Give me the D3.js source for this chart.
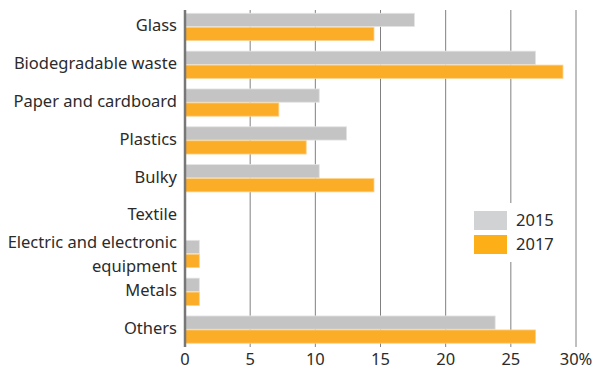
<!DOCTYPE html>
<html>
<head>
<meta charset="utf-8">
<script src="https://cdn.jsdelivr.net/npm/d3@7"></script>
<style>
  body { margin: 0; background: #fff; }
  text { font-family: "Noto Sans", sans-serif; fill: #2b2b2b; }
</style>
</head>
<body>
<div id="chart"></div>
<script>
var categories = ["Glass", "Biodegradable waste", "Paper and cardboard", "Plastics", "Bulky",
                  "Textile", "Electric and electronic|equipment", "Metals", "Others"];
var years = ["2015", "2017"];
var values2015 = [17.6, 26.9, 10.3, 12.4, 10.3, 0, 1.1, 1.1, 23.8];
var values2017 = [14.5, 29.0, 7.2, 9.3, 14.5, 0, 1.1, 1.1, 26.9];
var xTicks = [0, 5, 10, 15, 20, 25, 30];

var w = 601, h = 370;
var plotLeft = 185, plotRight = 576, plotTop = 10, plotBottom = 347;

var svg = d3.select("#chart").append("svg")
  .attr("width", w).attr("height", h);

var xScale = d3.scaleLinear().domain([0, 30]).range([plotLeft, plotRight]);
var yScale = d3.scaleBand().domain(categories)
  .range([plotTop - 0.5, plotBottom]).paddingInner(0.28).paddingOuter(0.1);
var sub = d3.scaleBand().domain(years).range([0, yScale.bandwidth()]).paddingInner(0.05);

// gridlines
svg.append("g").selectAll("line")
  .data(xTicks.slice(1))
  .enter().append("line")
  .attr("x1", function(d) { return xScale(d); })
  .attr("x2", function(d) { return xScale(d); })
  .attr("y1", plotTop).attr("y2", plotBottom)
  .attr("stroke", "#808080").attr("stroke-width", 1);

// legend background hides gridlines
svg.append("rect")
  .attr("x", 468).attr("y", 203).attr("width", 92).attr("height", 59)
  .attr("fill", "#fff");

var series = [
  { year: "2015", vals: values2015, color: "#c4c4c4", edge: "#e4e4e4", sw: "#d1d2d4" },
  { year: "2017", vals: values2017, color: "#fbad28", edge: "#fdd18a", sw: "#fcaf17" }
];

series.forEach(function(s) {
  svg.append("g").selectAll("rect")
    .data(categories.map(function(c, i) { return { cat: c, v: s.vals[i] }; })
      .filter(function(d) { return d.v > 0; }))
    .enter().append("rect")
    .attr("x", xScale(0))
    .attr("y", function(d) { return yScale(d.cat) + sub(s.year); })
    .attr("width", function(d) { return xScale(d.v) - xScale(0); })
    .attr("height", sub.bandwidth())
    .attr("fill", s.color)
    .attr("stroke", s.edge).attr("stroke-width", 0.8);
});

// left axis line
svg.append("line")
  .attr("x1", plotLeft).attr("x2", plotLeft).attr("y1", plotTop).attr("y2", plotBottom)
  .attr("stroke", "#777").attr("stroke-width", 2.5);

// category labels, centred on each group (two-line label split on "|")
svg.append("g").selectAll("text")
  .data(categories).enter().append("text")
  .attr("text-anchor", "end")
  .attr("font-size", 16.5)
  .attr("y", function(d) {
    var base = yScale(d) + yScale.bandwidth() / 2;
    return d.indexOf("|") >= 0 ? base - 12 : base - 1.5;
  })
  .each(function(d) {
    var parts = d.split("|");
    var t = d3.select(this);
    parts.forEach(function(p, i) {
      t.append("tspan").attr("x", plotLeft - 8)
        .attr("dy", i === 0 ? "0.35em" : 24)
        .text(p);
    });
  });

// x tick labels
svg.append("g").selectAll("text")
  .data(xTicks).enter().append("text")
  .attr("x", function(d) { return xScale(d); })
  .attr("y", 365)
  .attr("text-anchor", "middle")
  .attr("font-size", 16.5)
  .text(function(d) { return d === 30 ? "30%" : d; });

// legend
series.forEach(function(s, i) {
  svg.append("rect")
    .attr("x", 474).attr("y", 211 + i * 24)
    .attr("width", 33).attr("height", 19)
    .attr("fill", s.sw);
  svg.append("text")
    .attr("x", 516).attr("y", 220 + i * 24)
    .attr("dy", "0.35em")
    .attr("font-size", 16.5)
    .text(s.year);
});
</script>
</body>
</html>
